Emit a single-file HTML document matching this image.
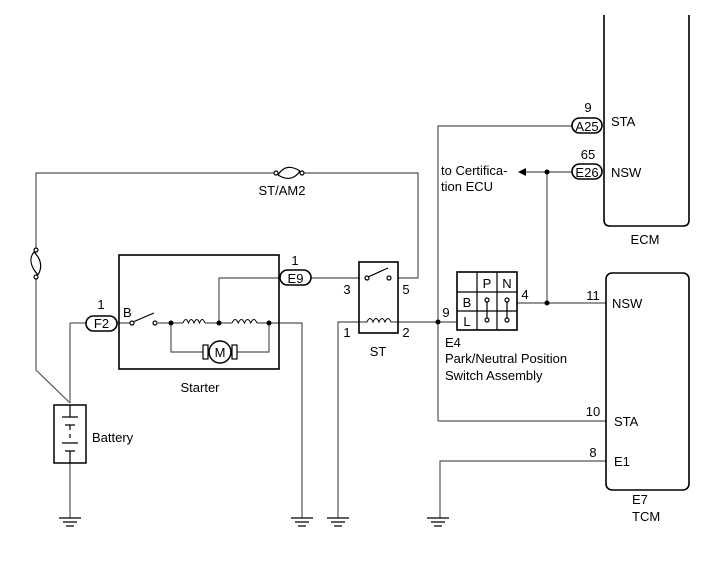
<!DOCTYPE html>
<html><head><style>body{margin:0;background:#fff}svg{display:block}text{font-family:"Liberation Sans",sans-serif;font-size:13px;fill:#000}</style></head>
<body>
<svg width="713" height="581" viewBox="0 0 713 581" xmlns="http://www.w3.org/2000/svg">
<g fill="none" stroke="#555" stroke-width="1.2">
<path d="M36 250 V173 H275 M302 173 H418 V278 H398"/>
<path d="M36 277 V370 L70 403"/>
<path d="M70 463 V518"/>
<path d="M70 323 V403"/>
<path d="M70 323 H86"/>
<path d="M117 323 H132 M158 323 H183 M205 323 H232 M257 323 H302 V518"/>
<path d="M171 323 V352 H203 M237 352 H269 V323"/>
<path d="M219 323 V278 H280 M311 278 H360"/>
<path d="M338 518 V322 H367 M391 322 H457"/>
<path d="M438 421 V126 H572"/>
<path d="M438 421 H606"/>
<path d="M440 518 V461 H606"/>
<path d="M572 172 H524 M547 172 V303 M517 303 H606"/>
</g>
<g fill="none" stroke="#000" stroke-width="1.2">
<circle cx="276" cy="173" r="2" fill="#fff"/><circle cx="302" cy="173" r="2" fill="#fff"/>
<path d="M278 175 C284 165 292 166 300 171 M278 175 C286 180 294 180 300 171"/>
<circle cx="36" cy="250" r="2" fill="#fff"/><circle cx="36" cy="277" r="2" fill="#fff"/>
<path d="M34 252 C29 258 30 266 38 275 M34 252 C42 260 42 268 38 275"/>
<rect x="54" y="405" width="32" height="58" stroke-width="1.5"/>
<path d="M62 417 H78 M65 425 H75 M70 425 V430 M70 434 V438 M62 443 H78 M65 451 H75 M70 451 V463 M70 405 V417"/>
<path d="M59 518 H81 M63 522 H77 M66 526 H74" />
<path d="M291 518 H313 M295 522 H309 M298 526 H306"/>
<path d="M327 518 H349 M331 522 H345 M334 526 H342"/>
<path d="M427 518 H449 M431 522 H445 M434 526 H442"/>
<rect x="119" y="255" width="160" height="114" stroke-width="1.6"/>
<circle cx="132" cy="323" r="2" fill="#fff"/><circle cx="155" cy="323" r="2" fill="#fff"/>
<path d="M133 322 L154 313"/>
<path d="M183 323 q2.75 -7 5.5 0 q2.75 -7 5.5 0 q2.75 -7 5.5 0 q2.75 -7 5.5 0" stroke-width="1"/>
<path d="M232 323 q3.1 -7 6.25 0 q3.1 -7 6.25 0 q3.1 -7 6.25 0 q3.1 -7 6.25 0" stroke-width="1"/>
<rect x="203" y="345" width="5" height="14" stroke-width="1.2"/><rect x="232" y="345" width="5" height="14" stroke-width="1.2"/>
<circle cx="220" cy="352" r="11" fill="#fff" stroke-width="1.5"/>
<rect x="359" y="262" width="39" height="71" stroke-width="1.6"/>
<circle cx="367" cy="278" r="2" fill="#fff"/><circle cx="389" cy="278" r="2" fill="#fff"/>
<path d="M368 277 L388 268"/>
<path d="M367 322 q3 -7 6 0 q3 -7 6 0 q3 -7 6 0 q3 -7 6 0" stroke-width="1"/>
<rect x="457" y="272" width="60" height="58" stroke-width="1.6"/>
<path d="M477 272 V330 M497 272 V330 M457 292 H517 M457 311 H517" stroke-width="1.2"/>
<path d="M487 301 V319 M507 301 V319"/>
<circle cx="487" cy="300" r="2" fill="#fff"/><circle cx="487" cy="320" r="2" fill="#fff"/>
<circle cx="507" cy="300" r="2" fill="#fff"/><circle cx="507" cy="320" r="2" fill="#fff"/>
<path d="M604 15 V220 Q604 226 610 226 H683 Q689 226 689 220 V15" stroke-width="1.6"/>
<rect x="606" y="273" width="83" height="217" rx="6" stroke-width="1.6"/>
<rect x="86" y="316" width="31" height="15" rx="7.5" fill="#fff" stroke-width="1.6"/>
<rect x="280" y="270" width="31" height="15" rx="7.5" fill="#fff" stroke-width="1.6"/>
<rect x="572" y="118" width="30" height="15" rx="7.5" fill="#fff" stroke-width="1.6"/>
<rect x="572" y="164" width="30" height="15" rx="7.5" fill="#fff" stroke-width="1.6"/>
</g>
<g fill="#000">
<circle cx="171" cy="323" r="2.5"/><circle cx="219" cy="323" r="2.5"/><circle cx="269" cy="323" r="2.5"/>
<circle cx="438" cy="322" r="2.5"/><circle cx="547" cy="172" r="2.5"/><circle cx="547" cy="303" r="2.5"/>
<path d="M518 172 L526 168 L526 176 Z"/>
</g>
<text x="101.5" y="328" text-anchor="middle">F2</text>
<text x="295.5" y="283" text-anchor="middle">E9</text>
<text x="587" y="131" text-anchor="middle">A25</text>
<text x="587" y="177" text-anchor="middle">E26</text>
<text x="220" y="357" text-anchor="middle" font-size="14">M</text>
<text x="101" y="309" text-anchor="middle">1</text>
<text x="295" y="265" text-anchor="middle">1</text>
<text x="123" y="317">B</text>
<text x="282" y="195" text-anchor="middle">ST/AM2</text>
<text x="200" y="392" text-anchor="middle">Starter</text>
<text x="92" y="442">Battery</text>
<text x="347" y="294" text-anchor="middle">3</text>
<text x="406" y="294" text-anchor="middle">5</text>
<text x="347" y="337" text-anchor="middle">1</text>
<text x="406" y="337" text-anchor="middle">2</text>
<text x="378" y="356" text-anchor="middle">ST</text>
<text x="446" y="317" text-anchor="middle">9</text>
<text x="487" y="288" text-anchor="middle">P</text>
<text x="507" y="288" text-anchor="middle">N</text>
<text x="467" y="307" text-anchor="middle">B</text>
<text x="467" y="326" text-anchor="middle">L</text>
<text x="525" y="299" text-anchor="middle">4</text>
<text x="445" y="347">E4</text>
<text x="445" y="363">Park/Neutral Position</text>
<text x="445" y="380">Switch Assembly</text>
<text x="441" y="175">to Certifica-</text>
<text x="441" y="191">tion ECU</text>
<text x="588" y="112" text-anchor="middle">9</text>
<text x="588" y="159" text-anchor="middle">65</text>
<text x="611" y="126">STA</text>
<text x="611" y="177">NSW</text>
<text x="645" y="244" text-anchor="middle">ECM</text>
<text x="593" y="300" text-anchor="middle">11</text>
<text x="612" y="308">NSW</text>
<text x="593" y="416" text-anchor="middle">10</text>
<text x="614" y="426">STA</text>
<text x="593" y="457" text-anchor="middle">8</text>
<text x="614" y="466">E1</text>
<text x="632" y="504">E7</text>
<text x="632" y="521">TCM</text>
</svg>
</body></html>
